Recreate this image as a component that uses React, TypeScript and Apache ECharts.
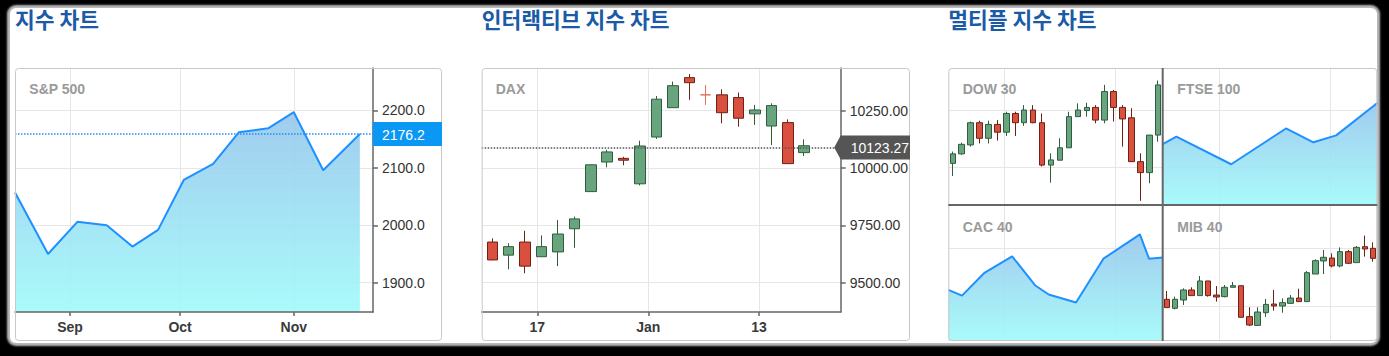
import React, { useEffect, useRef } from 'react';
import * as echarts from 'echarts';

// ---------------- data ----------------
const SP_DATES = ['2016-08-17', '2016-08-26', '2016-09-03', '2016-09-11', '2016-09-18', '2016-09-25', '2016-10-02', '2016-10-10', '2016-10-17', '2016-10-25', '2016-11-01', '2016-11-09', '2016-11-19'];
const SP_VALUES = [2057, 1950, 2006, 2000, 1963, 1992, 2079, 2107, 2162, 2169, 2197, 2096, 2159];
const SP_LAST_LABEL = '2176.2';
const SP_X_TICKS = ['2016-09-01', '2016-10-01', '2016-11-01'];
const SP_X_LABELS = ['Sep', 'Oct', 'Nov'];
const SP_X_RANGE = ['2016-08-17', '2016-11-22'];
const SP_Y_RANGE = [1849, 2274];
const SP_Y_STEP = 100;

// [open, close, low, high]
const DAX_OHLC = [
  [9677, 9599, 9598, 9693],
  [9620, 9657, 9558, 9672],
  [9677, 9572, 9541, 9726],
  [9613, 9657, 9613, 9706],
  [9634, 9712, 9572, 9773],
  [9735, 9778, 9652, 9788],
  [9897, 10014, 9897, 10014],
  [10026, 10070, 10003, 10079],
  [10042, 10034, 10012, 10049],
  [9931, 10096, 9924, 10119],
  [10135, 10300, 10127, 10314],
  [10263, 10359, 10263, 10377],
  [10394, 10372, 10297, 10410],
  [10319, 10319, 10275, 10362],
  [10319, 10241, 10195, 10343],
  [10307, 10217, 10180, 10329],
  [10236, 10253, 10188, 10275],
  [10183, 10272, 10100, 10282],
  [10198, 10019, 10019, 10212],
  [10067, 10097, 10052, 10125],
];
const DAX_LINE_VALUE = 10089;
const DAX_LAST_LABEL = '10123.27';
const DAX_X_TICKS = [2.74, 9.5, 16.24];
const DAX_X_LABELS = ['17', 'Jan', '13'];
const DAX_X_RANGE = [-0.645, 21.22];
const DAX_Y_RANGE = [9372, 10436];
const DAX_Y_STEP = 250;

const DOW_OHLC = [
  [18415, 18448, 18371, 18456],
  [18448, 18481, 18444, 18487],
  [18479, 18556, 18473, 18560],
  [18556, 18502, 18484, 18563],
  [18502, 18550, 18484, 18563],
  [18550, 18523, 18494, 18565],
  [18523, 18588, 18510, 18594],
  [18588, 18556, 18510, 18594],
  [18556, 18600, 18545, 18617],
  [18600, 18556, 18554, 18617],
  [18556, 18409, 18404, 18588],
  [18409, 18427, 18348, 18450],
  [18426, 18469, 18426, 18502],
  [18469, 18577, 18469, 18594],
  [18577, 18600, 18577, 18623],
  [18598, 18609, 18577, 18625],
  [18609, 18565, 18554, 18617],
  [18565, 18664, 18554, 18687],
  [18664, 18609, 18560, 18669],
  [18609, 18569, 18473, 18617],
  [18573, 18421, 18421, 18606],
  [18421, 18383, 18285, 18450],
  [18383, 18513, 18346, 18513],
  [18513, 18687, 18490, 18702],
];
const DOW_X_GRID = [5.735, 18.16];
const DOW_Y_RANGE = [18270.7, 18745.6];
const DOW_Y_STEP = 200;

const FTSE_DAYS = [0, 3, 15, 27, 33, 38, 47];
const FTSE_VALUES = [6820.5, 6827, 6803, 6834, 6822, 6828, 6856];
const FTSE_X_GRID = [12.33, 36.64];
const FTSE_Y_RANGE = [6767.7, 6886.4];
const FTSE_Y_STEP = 50;

const CAC_DAYS = [0, 3, 8, 14, 19, 22, 28, 34, 42, 44, 47];
const CAC_VALUES = [4464, 4459, 4479, 4493, 4468, 4460, 4453, 4491, 4512, 4491, 4492];
const CAC_X_GRID = [12.21, 36.54];
const CAC_Y_RANGE = [4419.7, 4537.5];
const CAC_Y_STEP = 50;

const MIB_OHLC = [
  [17058, 16986, 16986, 17130],
  [16980, 17058, 16971, 17081],
  [17052, 17139, 17009, 17153],
  [17139, 17090, 17090, 17162],
  [17090, 17217, 17090, 17260],
  [17217, 17090, 17081, 17217],
  [17095, 17078, 17038, 17173],
  [17081, 17162, 17075, 17182],
  [17162, 17176, 17162, 17208],
  [17176, 16902, 16902, 17176],
  [16908, 16835, 16827, 16989],
  [16832, 16948, 16827, 16989],
  [16942, 17014, 16905, 17061],
  [17017, 17000, 16960, 17139],
  [17000, 17029, 16942, 17066],
  [17023, 17069, 17017, 17095],
  [17069, 17038, 17038, 17150],
  [17038, 17289, 17038, 17303],
  [17277, 17393, 17277, 17404],
  [17390, 17422, 17277, 17485],
  [17416, 17347, 17335, 17456],
  [17347, 17471, 17335, 17508],
  [17471, 17370, 17364, 17485],
  [17376, 17508, 17376, 17520],
  [17514, 17494, 17428, 17610],
  [17500, 17413, 17384, 17552],
];
const MIB_X_GRID = [6.32, 19.77];
const MIB_Y_RANGE = [16696.7, 17875.3];
const MIB_Y_STEP = 500;

const TITLES = ['지수 차트', '인터랙티브 지수 차트', '멀티플 지수 차트'];
const PANEL_NAMES = ['S&P 500', 'DAX', 'DOW 30', 'FTSE 100', 'CAC 40', 'MIB 40'];

// ---------------- styles ----------------
const FONT = "'Liberation Sans', Arial, Helvetica, sans-serif";
const KFONT = "'Noto Sans CJK KR', 'Noto Sans', sans-serif";
const AXIS_COLOR = '#666';
const SPLIT_COLOR = '#e6e6e6';
const LINE_COLOR = '#1e90ff';
const TITLE_COLOR = '#1b5aa6';
const NAME_COLOR = '#9a9a9a';
const LABEL_COLOR = '#333';
const BOX_COLOR = '#c8c8c8';

const toTime = (d: string) => {
  const [y, m, dd] = d.split('-').map(Number);
  return new Date(y, m - 1, dd).getTime();
};

const areaFill = {
  type: 'linear', x: 0, y: 0, x2: 0, y2: 1,
  colorStops: [
    { offset: 0, color: 'rgba(150,198,236,0.9)' },
    { offset: 1, color: 'rgba(160,250,250,0.9)' },
  ],
};

const candleStyle = {
  color: '#68a57f',
  color0: '#d9503f',
  borderColor: '#2f5d3e',
  borderColor0: '#6e2216',
  borderColorDoji: '#e0705f',
  borderWidth: 1,
};

const nearestLabel = (ticks: number[], labels: string[], v: number) => {
  let best = -1;
  let bd = Infinity;
  ticks.forEach((t, i) => {
    const d = Math.abs(t - v);
    if (d < bd) { bd = d; best = i; }
  });
  return best >= 0 ? labels[best] : '';
};

function hiddenX(gridIndex: number, min: number, max: number, ticks: number[]) {
  return {
    type: 'value', gridIndex, min, max, position: 'bottom',
    axisLine: { show: false, onZero: false },
    axisTick: { show: false, customValues: ticks },
    axisLabel: { show: false, customValues: ticks },
    splitLine: { show: true, lineStyle: { color: SPLIT_COLOR, width: 1 } },
  };
}

function hiddenY(gridIndex: number, range: number[], step: number) {
  return {
    type: 'value', gridIndex, min: range[0], max: range[1], position: 'right',
    minInterval: step, maxInterval: step, splitNumber: 2,
    axisLine: { show: false, onZero: false },
    axisTick: { show: false },
    axisLabel: { show: false },
    splitLine: { show: true, showMinLine: false, showMaxLine: false, lineStyle: { color: SPLIT_COLOR, width: 1 } },
  };
}

// layout (px)
const G = {
  sp: { left: 15, top: 68, width: 358, height: 244 },
  dax: { left: 481.7, top: 68, width: 359, height: 244 },
  dow: { left: 948.3, top: 68, width: 214.4, height: 137 },
  ftse: { left: 1162.7, top: 68, width: 214.6, height: 137 },
  cac: { left: 948.3, top: 205, width: 214.4, height: 136 },
  mib: { left: 1162.7, top: 205, width: 214.6, height: 136 },
};
const BOXES = [
  { x: 15, y: 68, w: 427, h: 273 },
  { x: 481.7, y: 68, w: 428.3, h: 273 },
  { x: 948.3, y: 68, w: 429, h: 273 },
];

export default function App() {
  const ref = useRef<HTMLDivElement>(null);

  useEffect(() => {
    if (!ref.current) return;
    const chart = echarts.init(ref.current, null, { renderer: 'svg' });

    const spTicks = SP_X_TICKS.map(toTime);
    const spMin = toTime(SP_X_RANGE[0]);
    const spMax = toTime(SP_X_RANGE[1]) + 14 * 3600 * 1000;

    const yLabel = {
      color: LABEL_COLOR, fontSize: 14, fontFamily: FONT, margin: 9,
      showMinLabel: false, showMaxLabel: false,
    };
    const xLabel = { color: '#3a3a3a', fontSize: 14, fontWeight: 'bold', fontFamily: FONT, margin: 8 };
    const axisLineStyle = { color: AXIS_COLOR, width: 1.5 };

    const grids = [G.sp, G.dax, G.dow, G.ftse, G.cac, G.mib].map((g) => ({
      ...g, containLabel: false, outerBoundsMode: 'none', show: false,
    }));

    const option: any = {
      animation: false,
      textStyle: { fontFamily: FONT },
      grid: grids,
      xAxis: [
        // 0: S&P grid lines (dates on a numeric scale)
        {
          type: 'value', gridIndex: 0, min: spMin, max: spMax, position: 'bottom',
          axisLine: { show: false, onZero: false },
          axisTick: { show: false, customValues: spTicks },
          axisLabel: { show: false, customValues: spTicks },
          splitLine: { show: true, lineStyle: { color: SPLIT_COLOR, width: 1 } },
        },
        // 1: S&P visible axis, drawn above the area fill
        {
          type: 'value', gridIndex: 0, min: spMin, max: spMax, z: 3, position: 'bottom',
          axisLine: { show: true, onZero: false, lineStyle: axisLineStyle },
          axisTick: { show: true, length: 4, customValues: spTicks, lineStyle: axisLineStyle },
          axisLabel: {
            ...xLabel, customValues: spTicks,
            formatter: (v: number) => nearestLabel(spTicks, SP_X_LABELS, v),
          },
          splitLine: { show: false },
        },
        // 2: DAX
        {
          type: 'value', gridIndex: 1, min: DAX_X_RANGE[0], max: DAX_X_RANGE[1], position: 'bottom',
          axisLine: { show: true, onZero: false, lineStyle: axisLineStyle },
          axisTick: { show: true, length: 4, customValues: DAX_X_TICKS, lineStyle: axisLineStyle },
          axisLabel: {
            ...xLabel, customValues: DAX_X_TICKS,
            formatter: (v: number) => nearestLabel(DAX_X_TICKS, DAX_X_LABELS, v),
          },
          splitLine: { show: true, lineStyle: { color: SPLIT_COLOR, width: 1 } },
        },
        hiddenX(2, -0.5, DOW_OHLC.length - 0.5, DOW_X_GRID),
        hiddenX(3, FTSE_DAYS[0], FTSE_DAYS[FTSE_DAYS.length - 1], FTSE_X_GRID),
        hiddenX(4, CAC_DAYS[0], CAC_DAYS[CAC_DAYS.length - 1], CAC_X_GRID),
        hiddenX(5, -0.5, MIB_OHLC.length - 0.5, MIB_X_GRID),
      ],
      yAxis: [
        {
          type: 'value', gridIndex: 0, position: 'right',
          min: SP_Y_RANGE[0], max: SP_Y_RANGE[1], minInterval: SP_Y_STEP, maxInterval: SP_Y_STEP,
          axisLine: { show: true, onZero: false, lineStyle: axisLineStyle },
          axisTick: { show: true, length: 5, lineStyle: axisLineStyle },
          axisLabel: { ...yLabel, formatter: (v: number) => v.toFixed(1) },
          splitLine: { show: true, showMinLine: false, showMaxLine: false, lineStyle: { color: SPLIT_COLOR, width: 1 } },
        },
        {
          type: 'value', gridIndex: 1, position: 'right',
          min: DAX_Y_RANGE[0], max: DAX_Y_RANGE[1], minInterval: DAX_Y_STEP, maxInterval: DAX_Y_STEP,
          axisLine: { show: true, onZero: false, lineStyle: axisLineStyle },
          axisTick: { show: true, length: 5, lineStyle: axisLineStyle },
          axisLabel: { ...yLabel, formatter: (v: number) => v.toFixed(2) },
          splitLine: { show: true, showMinLine: false, showMaxLine: false, lineStyle: { color: SPLIT_COLOR, width: 1 } },
        },
        hiddenY(2, DOW_Y_RANGE, DOW_Y_STEP),
        hiddenY(3, FTSE_Y_RANGE, FTSE_Y_STEP),
        hiddenY(4, CAC_Y_RANGE, CAC_Y_STEP),
        hiddenY(5, MIB_Y_RANGE, MIB_Y_STEP),
      ],
      series: [
        {
          type: 'line', xAxisIndex: 0, yAxisIndex: 0,
          data: SP_DATES.map((d, i) => [toTime(d), SP_VALUES[i]]),
          symbol: 'none',
          lineStyle: { color: LINE_COLOR, width: 2 },
          itemStyle: { color: LINE_COLOR },
          areaStyle: { color: areaFill, origin: 'start', opacity: 1 },
          markLine: {
            silent: true, symbol: ['none', 'none'], animation: false,
            label: { show: false },
            lineStyle: { color: LINE_COLOR, type: 'dotted', width: 1.5 },
            data: [{ yAxis: SP_VALUES[SP_VALUES.length - 1] }],
          },
        },
        {
          type: 'candlestick', xAxisIndex: 2, yAxisIndex: 1,
          data: DAX_OHLC.map((c, i) => [i, ...c]),
          barWidth: 11,
          itemStyle: candleStyle,
          markLine: {
            silent: true, symbol: ['none', 'none'], animation: false,
            label: { show: false },
            lineStyle: { color: '#555', type: 'dotted', width: 1.5 },
            data: [{ yAxis: DAX_LINE_VALUE }],
          },
        },
        {
          type: 'candlestick', xAxisIndex: 3, yAxisIndex: 2,
          data: DOW_OHLC.map((c, i) => [i, ...c]),
          barWidth: 6,
          itemStyle: candleStyle,
        },
        {
          type: 'line', xAxisIndex: 4, yAxisIndex: 3,
          data: FTSE_DAYS.map((d, i) => [d, FTSE_VALUES[i]]),
          symbol: 'none',
          lineStyle: { color: LINE_COLOR, width: 2 },
          itemStyle: { color: LINE_COLOR },
          areaStyle: { color: areaFill, origin: 'start', opacity: 1 },
        },
        {
          type: 'line', xAxisIndex: 5, yAxisIndex: 4,
          data: CAC_DAYS.map((d, i) => [d, CAC_VALUES[i]]),
          symbol: 'none',
          lineStyle: { color: LINE_COLOR, width: 2 },
          itemStyle: { color: LINE_COLOR },
          areaStyle: { color: areaFill, origin: 'start', opacity: 1 },
        },
        {
          type: 'candlestick', xAxisIndex: 6, yAxisIndex: 5,
          data: MIB_OHLC.map((c, i) => [i, ...c]),
          barWidth: 6,
          itemStyle: candleStyle,
        },
      ],
    };

    chart.setOption(option);

    const spY = chart.convertToPixel({ yAxisIndex: 0 } as any, SP_VALUES[SP_VALUES.length - 1]) as unknown as number;
    const daxY = chart.convertToPixel({ yAxisIndex: 1 } as any, DAX_LINE_VALUE) as unknown as number;

    const spRight = G.sp.left + G.sp.width;
    const daxRight = G.dax.left + G.dax.width;
    const box0 = BOXES[0];
    const box1 = BOXES[1];

    const nameText = (text: string, x: number, y: number) => ({
      type: 'text', x, y, z: 50,
      style: {
        text, fill: NAME_COLOR, fontSize: 14, fontWeight: 'bold', fontFamily: FONT,
        align: 'left', verticalAlign: 'middle',
      },
    });

    const graphic: any[] = [
      ...TITLES.map((t, i) => ({
        type: 'text', x: BOXES[i].x, y: 18.5, z: 50,
        style: {
          text: t, fill: TITLE_COLOR, fontSize: 21.5, fontWeight: 'bold', fontFamily: KFONT,
          align: 'left', verticalAlign: 'middle',
        },
      })),
      ...BOXES.map((b) => ({
        type: 'rect', z: 60,
        shape: { x: b.x + 0.5, y: b.y + 0.5, width: b.w - 1, height: b.h - 1, r: 3 },
        style: { fill: 'none', stroke: BOX_COLOR, lineWidth: 1 },
      })),
      nameText(PANEL_NAMES[0], 29.3, 89),
      nameText(PANEL_NAMES[1], 495.7, 89),
      nameText(PANEL_NAMES[2], 962.7, 89),
      nameText(PANEL_NAMES[3], 1177.3, 89),
      nameText(PANEL_NAMES[4], 962.7, 227.3),
      nameText(PANEL_NAMES[5], 1177.3, 227.3),
      {
        type: 'line', z: 70,
        shape: { x1: G.ftse.left, y1: G.dow.top, x2: G.ftse.left, y2: G.cac.top + G.cac.height },
        style: { stroke: AXIS_COLOR, lineWidth: 2 },
      },
      {
        type: 'line', z: 70,
        shape: { x1: G.dow.left, y1: G.cac.top, x2: G.ftse.left + G.ftse.width, y2: G.cac.top },
        style: { stroke: AXIS_COLOR, lineWidth: 2 },
      },
      {
        type: 'rect', z: 80,
        shape: { x: spRight - 0.3, y: spY - 12, width: box0.x + box0.w - spRight + 0.3, height: 24 },
        style: { fill: '#0b98f5' },
      },
      {
        type: 'text', x: spRight + 9, y: spY + 0.5, z: 81,
        style: { text: SP_LAST_LABEL, fill: '#fff', fontSize: 14, fontFamily: FONT, align: 'left', verticalAlign: 'middle' },
      },
      {
        type: 'polygon', z: 80,
        shape: {
          points: [
            [daxRight - 6.5, daxY],
            [daxRight, daxY - 12],
            [box1.x + box1.w, daxY - 12],
            [box1.x + box1.w, daxY + 12],
            [daxRight, daxY + 12],
          ],
        },
        style: { fill: '#555' },
      },
      {
        type: 'text', x: daxRight + 10, y: daxY + 0.5, z: 81,
        style: { text: DAX_LAST_LABEL, fill: '#fff', fontSize: 14, fontFamily: FONT, align: 'left', verticalAlign: 'middle' },
      },
    ];

    chart.setOption({ graphic });

    return () => chart.dispose();
  }, []);

  return (
    <div style={{ position: 'fixed', left: 0, top: 0, width: 1389, height: 356, background: '#000', overflow: 'hidden' }}>
      <div
        style={{
          position: 'absolute', left: 10, top: 8, width: 1367, height: 335,
          background: '#fff', borderRadius: 6, boxShadow: '0 0 2px 3px #b8b8b8',
        }}
      />
      <div ref={ref} style={{ position: 'absolute', left: 0, top: 0, width: 1389, height: 356 }} />
    </div>
  );
}
